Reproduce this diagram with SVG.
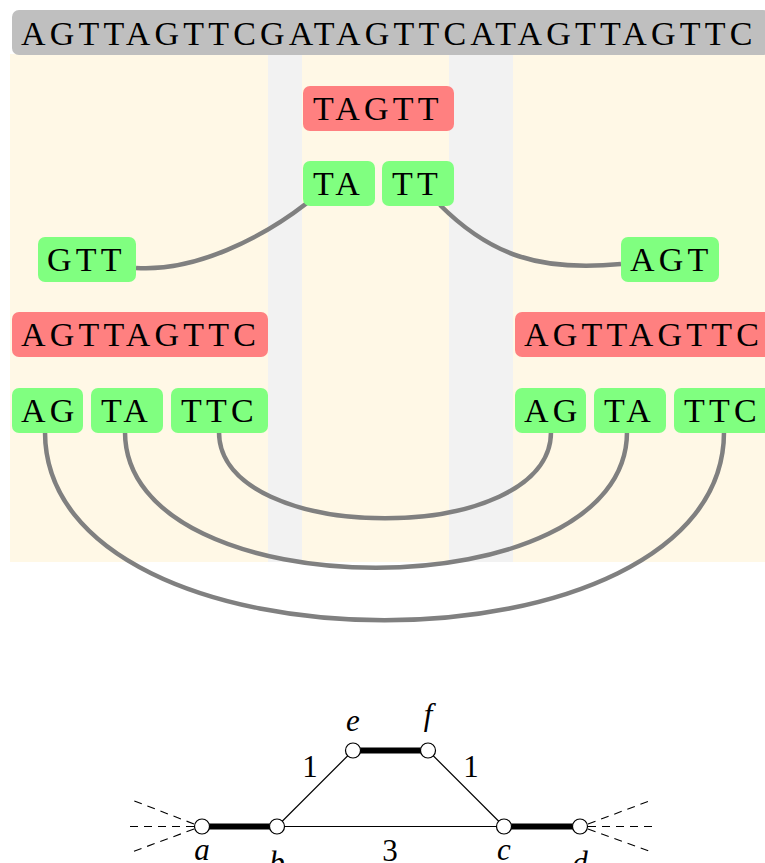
<svg xmlns="http://www.w3.org/2000/svg" width="765" height="863" viewBox="0 0 765 863">
<style>
.seq{font-family:"Liberation Serif",serif;font-size:34px;letter-spacing:4.2px;fill:#000}
.red{fill:#FF8080}
.grn{fill:#80FF80}
.arc{fill:none;stroke:#808080;stroke-width:4.5}
.thin{stroke:#000;stroke-width:1.2;fill:none}
.thick{stroke:#000;stroke-width:6;fill:none}
.dash{stroke:#000;stroke-width:1.1;stroke-dasharray:8 6;fill:none}
.vtx{fill:#fff;stroke:#000;stroke-width:1.2}
.lbl{font-family:"Liberation Serif",serif;font-size:31px;font-style:italic;fill:#000;text-anchor:middle}
.num{font-family:"Liberation Serif",serif;font-size:31px;fill:#000;text-anchor:middle}
</style>
<rect x="0" y="0" width="765" height="863" fill="#fff"/>
<g id="background">
<rect x="10" y="54" width="760" height="508" fill="#FFF8E6"/>
<rect x="268" y="54" width="34" height="508" fill="#F2F2F2"/>
<rect x="449" y="54" width="64" height="508" fill="#F2F2F2"/>
</g>
<g id="genome">
<rect x="12" y="10" width="758" height="45" rx="7" fill="#BFBFBF"/>
<text class="seq" x="21" y="45">AGTTAGTTCGATAGTTCATAGTTAGTTC</text>
</g>
<g id="connectors">
<path class="arc" d="M136,268 C195,272 262,238 307,203"/>
<path class="arc" d="M440,205 C490,255 540,272 621,264"/>
<path class="arc" d="M219,432 C219,547 551,547 551,432"/>
<path class="arc" d="M125,432 C125,613 627,613 627,432"/>
<path class="arc" d="M45,432 C45,683 724,683 724,432"/>
</g>
<g id="read-TAGTT"><rect class="red" x="303" y="86" width="151" height="45" rx="7"/><text class="seq" x="313" y="120">TAGTT</text></g>
<g id="seed-TA-mid"><rect class="grn" x="303" y="161" width="72" height="45" rx="7"/><text class="seq" x="313" y="195">TA</text></g>
<g id="seed-TT-mid"><rect class="grn" x="382" y="161" width="72" height="45" rx="7"/><text class="seq" x="392" y="195">TT</text></g>
<g id="seed-GTT"><rect class="grn" x="38" y="237" width="98" height="45" rx="7"/><text class="seq" x="47" y="271">GTT</text></g>
<g id="seed-AGT"><rect class="grn" x="621" y="237" width="98" height="45" rx="7"/><text class="seq" x="630" y="271">AGT</text></g>
<g id="read-left"><rect class="red" x="12" y="312" width="256" height="45" rx="7"/><text class="seq" x="21" y="346">AGTTAGTTC</text></g>
<g id="read-right"><rect class="red" x="515" y="312" width="256" height="45" rx="7"/><text class="seq" x="524" y="346">AGTTAGTTC</text></g>
<g id="seed-AG-left"><rect class="grn" x="12" y="388" width="71" height="45" rx="7"/><text class="seq" x="21" y="422">AG</text></g>
<g id="seed-TA-left"><rect class="grn" x="91" y="388" width="72" height="45" rx="7"/><text class="seq" x="101" y="422">TA</text></g>
<g id="seed-TTC-left"><rect class="grn" x="171" y="388" width="97" height="45" rx="7"/><text class="seq" x="181" y="422">TTC</text></g>
<g id="seed-AG-right"><rect class="grn" x="515" y="388" width="71" height="45" rx="7"/><text class="seq" x="524" y="422">AG</text></g>
<g id="seed-TA-right"><rect class="grn" x="594" y="388" width="72" height="45" rx="7"/><text class="seq" x="604" y="422">TA</text></g>
<g id="seed-TTC-right"><rect class="grn" x="674" y="388" width="97" height="45" rx="7"/><text class="seq" x="684" y="422">TTC</text></g>
<g id="graph-edges">
<line class="dash" x1="194" y1="824" x2="132" y2="800"/>
<line class="dash" x1="194" y1="826.5" x2="126" y2="826.5"/>
<line class="dash" x1="194" y1="829" x2="132" y2="852"/>
<line class="dash" x1="588" y1="824" x2="652" y2="800"/>
<line class="dash" x1="588" y1="826.5" x2="656" y2="826.5"/>
<line class="dash" x1="588" y1="829" x2="652" y2="852"/>
<line class="thick" x1="202" y1="826.5" x2="277" y2="826.5"/>
<line class="thick" x1="504" y1="826.5" x2="580" y2="826.5"/>
<line class="thick" x1="353" y1="750.5" x2="428" y2="750.5"/>
<line class="thin" x1="277" y1="826.5" x2="504" y2="826.5"/>
<line class="thin" x1="277" y1="826.5" x2="353" y2="750.5"/>
<line class="thin" x1="428" y1="750.5" x2="504" y2="826.5"/>
<text class="num" x="310" y="777">1</text>
<text class="num" x="471" y="777">1</text>
<text class="num" x="390" y="861">3</text>
</g>
<g id="node-a"><circle class="vtx" cx="202" cy="826.5" r="7.5"/><text class="lbl" x="202" y="860">a</text></g>
<g id="node-b"><circle class="vtx" cx="277" cy="826.5" r="7.5"/><text class="lbl" x="277" y="873">b</text></g>
<g id="node-c"><circle class="vtx" cx="504" cy="826.5" r="7.5"/><text class="lbl" x="504" y="860">c</text></g>
<g id="node-d"><circle class="vtx" cx="580" cy="826.5" r="7.5"/><text class="lbl" x="580" y="873">d</text></g>
<g id="node-e"><circle class="vtx" cx="353" cy="750.5" r="7.5"/><text class="lbl" x="353" y="731">e</text></g>
<g id="node-f"><circle class="vtx" cx="428" cy="750.5" r="7.5"/><text class="lbl" x="428" y="725">f</text></g>
</svg>
